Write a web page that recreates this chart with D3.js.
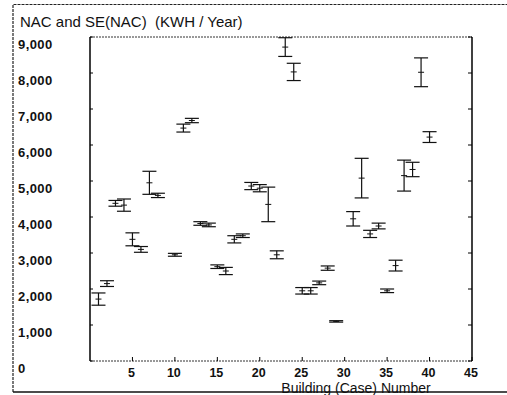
<!DOCTYPE html>
<html>
<head>
<meta charset="utf-8">
<script src="https://cdn.jsdelivr.net/npm/d3@7"></script>
<style>
  body { margin: 0; background: #fff; }
  text { font-family: "Liberation Sans", Arial, sans-serif; fill: #111; white-space: pre; }
</style>
</head>
<body>
<svg></svg>
<script>
var width = 507,
    height = 395

// building (case) numbers, mean NAC and its standard error (kWh / year)
var cases = [1,2,3,4,5,6,7,8,9,10,11,12,13,14,15,16,17,18,19,20,21,22,23,24,25,26,27,28,29,30,31,32,33,34,35,36,37,38,39,40]
var nac = [1720,2150,4380,4330,3380,3100,4950,4600,null,2950,6470,6680,3820,3780,2620,2500,3380,3480,4860,4800,4350,2950,8720,8030,1950,1950,2170,2580,1100,null,3950,5080,3530,3750,1950,2650,5150,5320,8020,6220]
var se = [170,80,80,170,180,80,320,60,null,40,110,60,50,50,50,100,100,50,100,100,480,110,260,240,90,90,50,60,20,null,200,550,100,80,50,150,430,200,400,150]

var yTicks = [0,1000,2000,3000,4000,5000,6000,7000,8000,9000]
var xTicks = [5,10,15,20,25,30,35,40,45]

var svg = d3.select("svg").attr("width", width).attr("height", height)

var x = d3.scaleLinear().domain([0, 45]).range([90, 472])
var y = d3.scaleLinear().domain([0, 9000]).range([361, 37])

var data = cases.map(function(c, i) {
  return {"id": c, "nac": nac[i], "se": se[i]}
}).filter(function(d) {
  return d.nac !== null
})

// outer frame
svg.append("path")
  .attr("d", "M13,392 L13,4.5 L507,4.5")
  .attr("fill", "none").attr("stroke", "#222").attr("stroke-width", 1.2)
  .attr("stroke-dasharray", "3,1")
svg.append("line")
  .attr("x1", 13).attr("x2", 507).attr("y1", 392).attr("y2", 392)
  .attr("stroke", "#111").attr("stroke-width", 1.5)

// title
svg.append("text")
  .attr("x", 20).attr("y", 27)
  .attr("font-size", 15)
  .text("NAC and SE(NAC)  (KWH / Year)")

// plot box
svg.append("line")
  .attr("x1", 90).attr("x2", 472).attr("y1", 37).attr("y2", 37)
  .attr("stroke", "#333").attr("stroke-width", 1).attr("stroke-dasharray", "2,1")
svg.append("line")
  .attr("x1", 90).attr("x2", 472).attr("y1", 361).attr("y2", 361)
  .attr("stroke", "#333").attr("stroke-width", 1).attr("stroke-dasharray", "2,1")
svg.append("line")
  .attr("x1", 90).attr("x2", 90).attr("y1", 37).attr("y2", 361)
  .attr("stroke", "#000").attr("stroke-width", 1.5)
svg.append("line")
  .attr("x1", 472).attr("x2", 472).attr("y1", 37).attr("y2", 361)
  .attr("stroke", "#000").attr("stroke-width", 1.5)

// ticks
svg.selectAll(".ytickL").data(yTicks).enter().append("line")
  .attr("x1", 90).attr("x2", 93)
  .attr("y1", function(d) { return y(d) }).attr("y2", function(d) { return y(d) })
  .attr("stroke", "#000")
svg.selectAll(".ytickR").data(yTicks).enter().append("line")
  .attr("x1", 468).attr("x2", 472)
  .attr("y1", function(d) { return y(d) }).attr("y2", function(d) { return y(d) })
  .attr("stroke", "#000")
svg.selectAll(".xtick").data(xTicks).enter().append("line")
  .attr("x1", function(d) { return x(d) }).attr("x2", function(d) { return x(d) })
  .attr("y1", 361).attr("y2", 357)
  .attr("stroke", "#000")

// tick labels
var fmt = d3.format(",")
svg.selectAll(".ylab").data(yTicks).enter().append("text")
  .attr("x", 18)
  .attr("y", function(d) { return y(d) + 11.5 })
  .attr("font-size", 13).attr("font-weight", "bold")
  .attr("letter-spacing", 0.4)
  .text(function(d) { return fmt(d) })

svg.selectAll(".xlab").data(xTicks).enter().append("text")
  .attr("x", function(d) { return x(d) - 1 })
  .attr("y", 377)
  .attr("text-anchor", "middle")
  .attr("font-size", 12.5).attr("font-weight", "bold")
  .text(function(d) { return d })

svg.append("text")
  .attr("x", 356).attr("y", 393)
  .attr("text-anchor", "middle")
  .attr("font-size", 14)
  .text("Building (Case) Number")

// error bars
var cap = 7
var bar = svg.selectAll(".bar").data(data).enter().append("g")

bar.append("line")
  .attr("x1", function(d) { return x(d.id) }).attr("x2", function(d) { return x(d.id) })
  .attr("y1", function(d) { return y(d.nac + d.se) })
  .attr("y2", function(d) { return y(d.nac - d.se) })
  .attr("stroke", "#111").attr("stroke-width", 1.2)

bar.append("line")
  .attr("x1", function(d) { return x(d.id) - cap }).attr("x2", function(d) { return x(d.id) + cap })
  .attr("y1", function(d) { return y(d.nac + d.se) })
  .attr("y2", function(d) { return y(d.nac + d.se) })
  .attr("stroke", "#111").attr("stroke-width", 1.2)

bar.append("line")
  .attr("x1", function(d) { return x(d.id) - cap }).attr("x2", function(d) { return x(d.id) + cap })
  .attr("y1", function(d) { return y(d.nac - d.se) })
  .attr("y2", function(d) { return y(d.nac - d.se) })
  .attr("stroke", "#111").attr("stroke-width", 1.2)

bar.append("line")
  .attr("x1", function(d) { return x(d.id) - 3 }).attr("x2", function(d) { return x(d.id) + 3 })
  .attr("y1", function(d) { return y(d.nac) })
  .attr("y2", function(d) { return y(d.nac) })
  .attr("stroke", "#111").attr("stroke-width", 1)
</script>
</body>
</html>
